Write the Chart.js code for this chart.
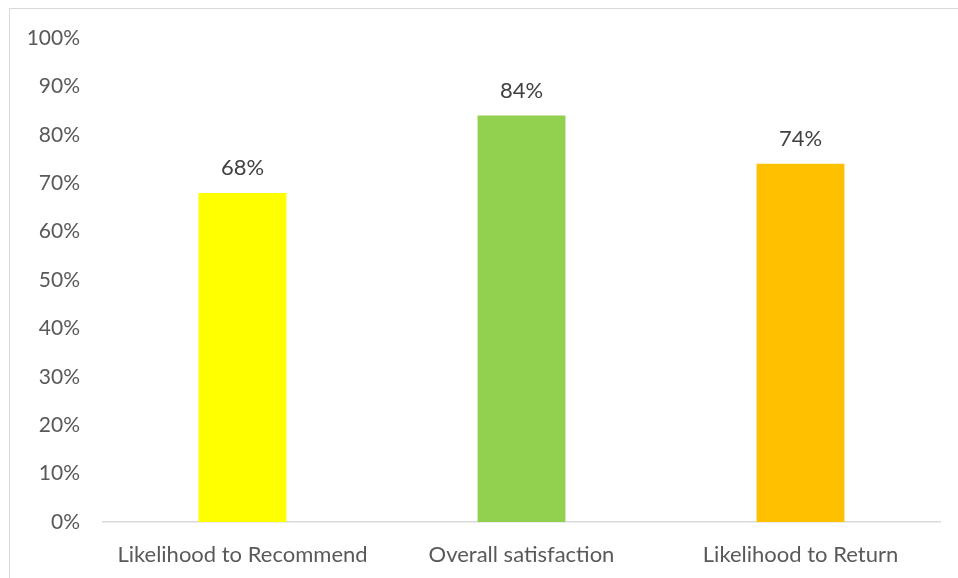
<!DOCTYPE html>
<html>
<head>
<meta charset="utf-8">
<script src="https://cdn.jsdelivr.net/npm/chart.js@4"></script>
<style>
  body { margin: 0; background: #fff; }
  #frame { position: absolute; left: 9px; top: 8px; width: 960px; height: 600px; border: 1px solid #d9d9d9; }
  #wrap { position: absolute; left: 0; top: 0; width: 958px; height: 578px; }
</style>
</head>
<body>
<div id="frame"></div>
<div id="wrap"><canvas id="chart"></canvas></div>
<script>
const categories = ['Likelihood to Recommend', 'Overall satisfaction', 'Likelihood to Return'];
const values = [68, 84, 74];
const barColors = ['#FFFF00', '#92D050', '#FFC000'];
const yTicks = [0, 10, 20, 30, 40, 50, 60, 70, 80, 90, 100];

// draws the % labels above each bar
const valueLabels = {
  id: 'valueLabels',
  afterDatasetsDraw(chart) {
    const ctx = chart.ctx;
    const meta = chart.getDatasetMeta(0);
    ctx.save();
    ctx.font = '22px Lato';
    ctx.fillStyle = '#404040';
    ctx.textAlign = 'center';
    ctx.textBaseline = 'middle';
    meta.data.forEach((bar, i) => {
      ctx.fillText(values[i] + '%', bar.x, bar.y - 25);
    });
    ctx.restore();
  }
};

new Chart(document.getElementById('chart'), {
  type: 'bar',
  data: {
    labels: categories,
    datasets: [{
      data: values,
      backgroundColor: barColors,
      categoryPercentage: 1,
      barPercentage: 0.315
    }]
  },
  options: {
    responsive: true,
    maintainAspectRatio: false,
    animation: false,
    layout: { padding: { left: 0, right: 18, top: 38, bottom: 0 } },
    plugins: { legend: { display: false }, tooltip: { enabled: false } },
    scales: {
      x: {
        grid: { display: false },
        border: { display: true, color: '#d9d9d9', width: 1.5 },
        ticks: { color: '#595959', font: { family: 'Lato', size: 22 }, padding: 12 },
        afterFit(scale) { scale.height = 56; }
      },
      y: {
        min: 0,
        max: 100,
        afterBuildTicks(scale) { scale.ticks = yTicks.map(v => ({ value: v })); },
        grid: { display: false },
        border: { display: false },
        ticks: {
          color: '#595959',
          font: { family: 'Lato', size: 21 },
          padding: 15,
          callback: v => v + '%'
        },
        afterFit(scale) { scale.width = 103; }
      }
    }
  },
  plugins: [valueLabels]
});
</script>
</body>
</html>
